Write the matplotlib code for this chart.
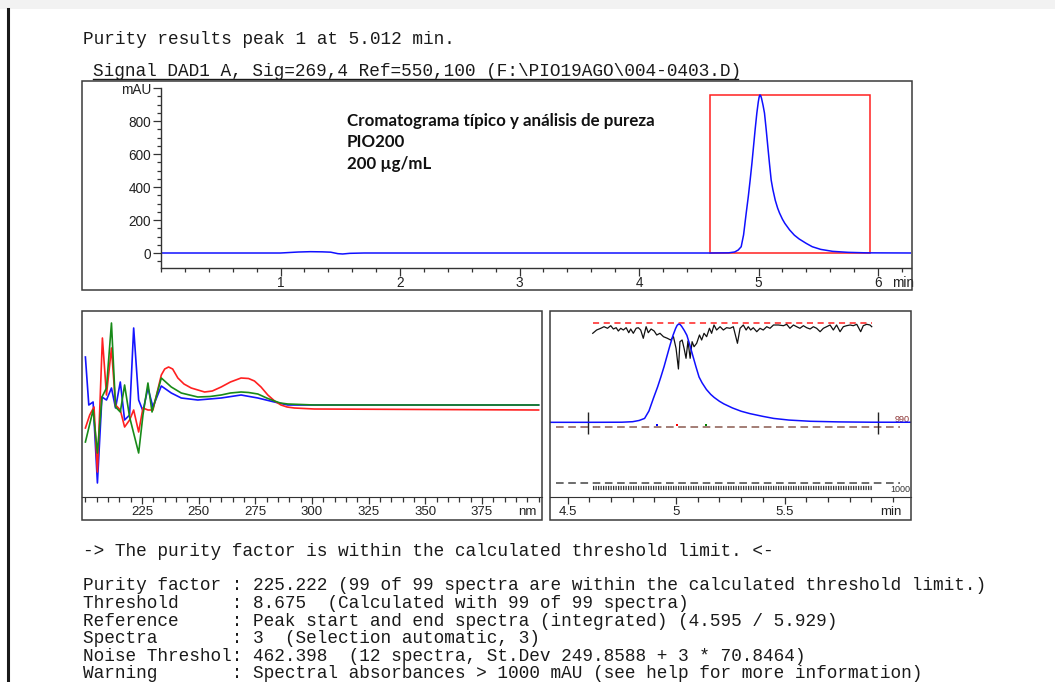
import matplotlib
matplotlib.use('Agg')
import matplotlib.pyplot as plt
from matplotlib.patches import Rectangle
from matplotlib.lines import Line2D
from matplotlib.ticker import MultipleLocator, FixedLocator

plt.rcParams['font.family'] = ['Liberation Sans', 'DejaVu Sans']

# chromatogram, time (min) / absorbance (mAU)
chrom_time = [0.0, 1.0, 1.05, 1.15, 1.25, 1.35, 1.42, 1.48, 1.52, 1.58, 1.7, 4.6, 4.75, 4.8, 4.83,
              4.855, 4.875, 4.897, 4.915, 4.93, 4.945, 4.958, 4.972, 4.986, 4.998, 5.005, 5.012, 5.019,
              5.026, 5.038, 5.05, 5.064, 5.078, 5.092, 5.106, 5.12, 5.14, 5.16, 5.176, 5.2, 5.22, 5.26,
              5.30, 5.34, 5.40, 5.45, 5.52, 5.62, 5.75, 5.9, 6.3]
chrom_mau = [0, 0, 2, 6, 8, 7, 5, -4, -6, -2, 0, 0, 1, 6, 18,
             38, 110, 242, 345, 442, 545, 644, 750, 848, 915, 945, 958, 953,
             935, 895, 848, 750, 644, 540, 442, 385, 320, 272, 242, 205, 180, 140,
             108, 85, 58, 38, 22, 10, 4, 1, 0]
peak_start, peak_end, peak_top = 4.595, 5.929, 958

# spectra at upslope / apex / downslope (relative units)
blue_nm = [200, 201.5, 203.4, 205.3, 207.3, 209.3, 211.5, 213.3, 215.4, 217.3, 219.5, 221.3, 223.5,
           225.4, 227.6, 229.8, 233.5, 237.9, 242.3, 249.6, 259.9, 268.7, 276.1, 283.4, 289.3, 301, 400]
blue_val = [140, 92, 95, 14, 100, 97, 109, 89, 115, 77, 82, 169, 97,
            86, 109, 90, 111, 104, 99, 97, 99, 102, 99, 95, 92, 92, 92]
red_nm = [200, 201.9, 203.8, 205.3, 207.5, 209.3, 211.5, 213.3, 215.4, 217.3, 219.5, 221.3, 223.5,
          225.4, 227.6, 229.8, 233.5, 235, 236.7, 238.5, 240.8, 243.5, 246.7, 252.6, 256, 259.9, 264,
          268.7, 272, 274.6, 277.5, 280.5, 283.5, 286.3, 289, 292.2, 301, 350, 400]
red_val = [69, 82, 90, 25, 159, 102, 149, 92, 87, 70, 77, 87, 65,
           89, 87, 87, 122, 128, 130, 128, 119, 113, 109, 105, 106, 110, 115,
           119, 118.5, 116, 110, 102, 96, 92, 90, 89, 88, 87.5, 87]
green_nm = [200, 203.4, 205.3, 207.3, 209.3, 211.5, 213.3, 215.4, 217.3, 219.5, 223.5, 225.4, 227.6,
            229.4, 233.5, 237.9, 242.3, 249.6, 255, 259.9, 264, 268.7, 272, 276.1, 280, 283.4, 286,
            289.3, 301, 400]
green_val = [55, 87, 44, 100, 109, 174, 90, 85, 112, 80, 44, 82, 114,
             85, 119, 110, 104, 100, 100.5, 102, 104, 105, 104.5, 103, 99, 96, 94,
             93, 92, 92]

# purity curve (min / relative units)
purity_time = [4.616, 4.634, 4.653, 4.668, 4.684, 4.699, 4.711, 4.724, 4.734, 4.745, 4.757, 4.770,
               4.782, 4.791, 4.803, 4.816, 4.826, 4.837, 4.849, 4.862, 4.872, 4.885, 4.899, 4.911,
               4.926, 4.942, 4.960, 4.975, 4.988, 5.000, 5.011, 5.018, 5.028, 5.037, 5.046, 5.055,
               5.065, 5.074, 5.083, 5.095, 5.108, 5.118, 5.129, 5.141, 5.154, 5.164, 5.175, 5.187,
               5.203, 5.218, 5.233, 5.249, 5.264, 5.283, 5.295, 5.310, 5.323, 5.333, 5.344, 5.356,
               5.372, 5.387, 5.402, 5.418, 5.433, 5.449, 5.472, 5.495, 5.510, 5.525, 5.541, 5.556,
               5.571, 5.587, 5.602, 5.618, 5.633, 5.648, 5.664, 5.679, 5.694, 5.710, 5.725, 5.740,
               5.756, 5.771, 5.786, 5.802, 5.817, 5.833, 5.851, 5.863, 5.879, 5.894, 5.902]
purity_val = [163.7, 167, 168.7, 170.3, 168.7, 171.3, 168, 169.3, 166, 168.7, 167, 169.3,
              164.3, 168, 163.7, 168.7, 169.3, 167, 158.7, 170.3, 164.3, 168, 166, 162,
              163.7, 160.3, 158.7, 157, 160.3, 148.7, 128, 155.3, 157, 148.7, 138.7, 156,
              138.7, 155.3, 150.3, 153.7, 162, 157, 163.7, 160.3, 168.7, 163.7, 172, 167,
              170.3, 167, 169.3, 168.7, 170.3, 153.7, 168.7, 172, 167, 170.3, 167, 169.3,
              165.3, 168.7, 167, 170.3, 168.7, 172, 172, 171.3, 172.7, 168.7, 172, 170.3,
              168.7, 171.3, 169.3, 168, 170.3, 168.7, 165.3, 168.7, 170.3, 172, 167, 172,
              165.3, 170.3, 171.3, 172, 171.3, 172.7, 165.3, 171.3, 172.7, 172, 170.3]
ref_level = 173.7
thresh_level, noise_level, spectra_level = 70.3, 13.7, 9.3
thresh_span = [4.447, 6.032]
spec_marks_t = [4.914, 5.006, 5.137]
spec_marks_c = ['blue', 'red', 'green']

W, H = 1055, 682
fig = plt.figure(figsize=(W / 100, H / 100), dpi=100)


def box(l, t, r, b):
    return [l / W, 1 - b / H, (r - l) / W, (b - t) / H]


def frame(l, t, r, b):
    fig.patches.append(Rectangle((l / W, 1 - b / H), (r - l) / W, (b - t) / H, transform=fig.transFigure,
                                 fill=False, ec='#3a3a3a', lw=1.1))


# page decorations
fig.patches.append(Rectangle((0, 1 - 9 / H), 1, 9 / H, transform=fig.transFigure, color='#f2f2f2', lw=0))
fig.lines.append(Line2D([8 / W, 8 / W], [0, 1 - 9 / H], transform=fig.transFigure, color='#1a1a1a', lw=2.2))

mono = dict(family='Liberation Mono', fontsize=12.8, color='#1a1a1a', va='center')
fig.text(83 / W, 1 - 40 / H, 'Purity results peak 1 at 5.012 min.', **mono)
fig.text(93 / W, 1 - 72 / H, 'Signal DAD1 A, Sig=269,4 Ref=550,100 (F:\\PIO19AGO\\004-0403.D)', **mono)
fig.lines.append(Line2D([93 / W, 738 / W], [1 - 78.5 / H, 1 - 78.5 / H], transform=fig.transFigure,
                        color='#1a1a1a', lw=1))
fig.text(83 / W, 1 - 551 / H, '-> The purity factor is within the calculated threshold limit. <-', **mono)
report = [
    'Purity factor : 225.222 (99 of 99 spectra are within the calculated threshold limit.)',
    'Threshold     : 8.675  (Calculated with 99 of 99 spectra)',
    'Reference     : Peak start and end spectra (integrated) (4.595 / 5.929)',
    'Spectra       : 3  (Selection automatic, 3)',
    'Noise Threshol: 462.398  (12 spectra, St.Dev 249.8588 + 3 * 70.8464)',
    'Warning       : Spectral absorbances > 1000 mAU (see help for more information)',
]
for i, line in enumerate(report):
    fig.text(83 / W, 1 - (586 + i * 17.6) / H, line, **mono)

frame(82, 81, 912, 290)
frame(82, 311, 542, 520)
frame(550, 311, 911, 520)

tick_col = '#333333'

# top chromatogram
ax = fig.add_axes(box(161, 88, 911, 268))
ax.plot(chrom_time, chrom_mau, color='#1010ff', lw=1.1)
ax.add_patch(Rectangle((peak_start, 0), peak_end - peak_start, peak_top, fill=False, ec='#ff2020', lw=1.1))
ax.set_xlim(0, 6.276)
ax.set_ylim(-90.9, 1000)
ax.patch.set_visible(False)
for s in ['top', 'right']:
    ax.spines[s].set_visible(False)
for s in ['left', 'bottom']:
    ax.spines[s].set_color(tick_col)
    ax.spines[s].set_linewidth(1)
ax.xaxis.set_major_locator(FixedLocator([1, 2, 3, 4, 5, 6]))
ax.xaxis.set_minor_locator(MultipleLocator(0.2))
ax.yaxis.set_major_locator(FixedLocator([0, 200, 400, 600, 800, 1000]))
ax.yaxis.set_minor_locator(MultipleLocator(50))
ax.set_yticklabels(['0', '200', '400', '600', '800', 'mAU'])
ax.tick_params(which='major', length=5.5, width=0.9, color=tick_col, labelsize=9.8, labelcolor='#222', pad=1.5)
ax.tick_params(axis='x', which='major', pad=0.5)
ax.tick_params(which='minor', length=3, width=0.9, color=tick_col)
ax.text(6.12, -140, 'min', fontsize=9.8, color='#222', va='top', ha='left', clip_on=False)
ax.text(0.248, 0.86, 'Cromatograma típico y análisis de pureza\nPIO200\n200 µg/mL', transform=ax.transAxes,
        family='Lato', fontweight='bold', fontsize=12.2, color='#111', va='top', ha='left', linespacing=1.4)

# spectra panel
axs = fig.add_axes(box(82, 311, 542, 497))
axs.plot(blue_nm, blue_val, color='#1515ff', lw=1.2)
axs.plot(red_nm, red_val, color='#ff2020', lw=1.2)
axs.plot(green_nm, green_val, color='#188a18', lw=1.2)
axs.set_xlim(198.5, 401.5)
axs.set_ylim(0, 186)
axs.patch.set_visible(False)
for s in ['top', 'right', 'left']:
    axs.spines[s].set_visible(False)
axs.spines['bottom'].set_color(tick_col)
axs.set_yticks([])
axs.xaxis.set_major_locator(FixedLocator([225, 250, 275, 300, 325, 350, 375]))
axs.xaxis.set_minor_locator(MultipleLocator(5))
axs.tick_params(which='major', length=5, width=0.9, color=tick_col, labelsize=9.5, labelcolor='#222', pad=1.5)
axs.tick_params(which='minor', length=3.5, width=0.9, color=tick_col)
axs.text(395, -9, 'nm', fontsize=9.5, color='#222', va='top', ha='center', clip_on=False)

# purity panel
axp = fig.add_axes(box(550, 311, 911, 497))
axp.set_xlim(4.419, 6.083)
axp.set_ylim(0, 186)
axp.patch.set_visible(False)
for s in ['top', 'right', 'left']:
    axp.spines[s].set_visible(False)
axp.spines['bottom'].set_color(tick_col)
axp.set_yticks([])
axp.xaxis.set_major_locator(FixedLocator([4.5, 5.0, 5.5]))
axp.set_xticklabels(['4.5', '5', '5.5'])
axp.xaxis.set_minor_locator(MultipleLocator(0.1))
axp.tick_params(which='major', length=5, width=0.9, color=tick_col, labelsize=9.5, labelcolor='#222', pad=1.5)
axp.tick_params(which='minor', length=3.5, width=0.9, color=tick_col)
axp.text(5.99, -9, 'min', fontsize=9.5, color='#222', va='top', ha='center', clip_on=False)

axp.plot([purity_time[0], purity_time[-1]], [ref_level, ref_level], color='#ff2020', lw=1.1, dashes=(4, 3))
axp.plot(purity_time, purity_val, color='#111', lw=0.9)
axp.plot(thresh_span, [thresh_level, thresh_level], color='#8a5a50', lw=1.1, dashes=(5, 3))
axp.plot(thresh_span, [noise_level, noise_level], color='#444', lw=1.1, dashes=(5, 3))
axp.plot([purity_time[0], purity_time[-1]], [spectra_level, spectra_level], color='#333', lw=3,
         dashes=(0.3, 0.3))
axp.vlines([peak_start, peak_end], 63, 85, color='#222', lw=1)
for t, c in zip(spec_marks_t, spec_marks_c):
    axp.plot([t], [72], marker='s', ms=1.5, color=c, mew=0)
axp.text(6.04, 77, '990', fontsize=6.5, color='#8a3030', ha='center', va='center', clip_on=False)
axp.text(6.032, 7, '1000', fontsize=6.5, color='#333', ha='center', va='center', clip_on=False)

axc = axp.twinx()
axc.plot(chrom_time, chrom_mau, color='#1010ff', lw=1.1)
axc.set_xlim(4.419, 6.083)
axc.set_ylim(-728, 1085)
axc.axis('off')

fig.savefig('out.png', dpi=100)
